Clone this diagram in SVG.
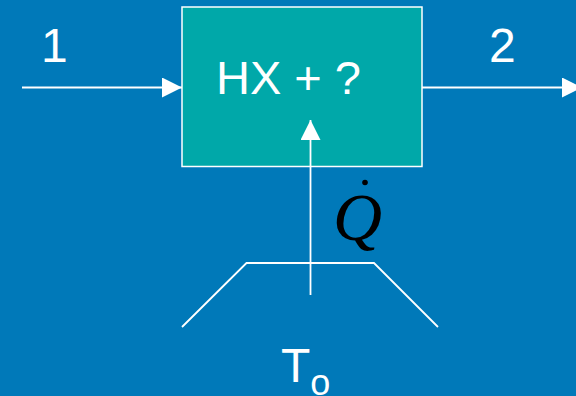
<svg xmlns="http://www.w3.org/2000/svg" width="576" height="396" viewBox="0 0 576 396">
<defs>
<style>
.ln{stroke:#fff;stroke-width:1.8;fill:none}
.lbl{font-family:"Liberation Sans",Arial,sans-serif;fill:#fff}
</style>
<marker id="ah" markerWidth="20" markerHeight="20" viewBox="0 0 20 20" refX="20" refY="10" orient="auto" markerUnits="userSpaceOnUse">
<path d="M0,0 L20,10 L0,20 Z" fill="#fff"/>
</marker>
</defs>
<rect width="576" height="396" fill="#0079B9"/>
<g id="hx">
<rect x="182" y="7" width="240" height="159.5" fill="#00A8A9" stroke="#fff" stroke-width="1.5"/>
<text class="lbl" x="216" y="94" font-size="47">HX + ?</text>
</g>
<g id="reservoir">
<polyline class="ln" points="182,327 246.5,263 374,263 438,327"/>
<text class="lbl" x="281" y="382" font-size="48">T<tspan font-size="36" dy="13">o</tspan></text>
</g>
<g id="label1"><text class="lbl" x="41" y="62" font-size="48">1</text></g>
<g id="label2"><text class="lbl" x="489" y="62" font-size="48">2</text></g>
<g id="qdot">
<text x="333" y="240" font-family="'Liberation Serif','Times New Roman',serif" font-style="italic" font-size="68" fill="#000">Q</text>
<circle cx="365" cy="182.5" r="2.8" fill="#000"/>
</g>
<g id="connectors">
<line class="ln" x1="22" y1="87.5" x2="182" y2="87.5" marker-end="url(#ah)"/>
<line class="ln" x1="422" y1="87.5" x2="582" y2="87.5" marker-end="url(#ah)"/>
<line class="ln" x1="310.5" y1="295" x2="310.5" y2="120" marker-end="url(#ah)"/>
</g>
</svg>
